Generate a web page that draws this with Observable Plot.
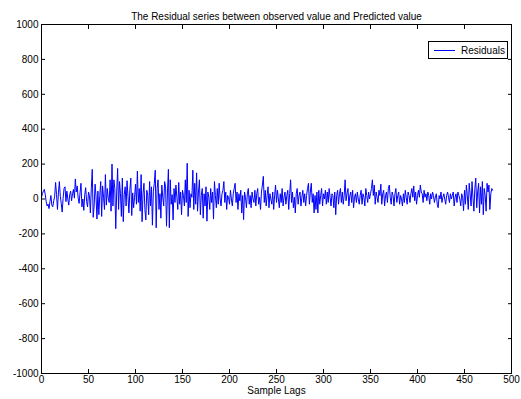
<!DOCTYPE html>
<html>
<head>
<meta charset="utf-8">
<script src="https://cdn.jsdelivr.net/npm/d3@7"></script>
<script src="https://cdn.jsdelivr.net/npm/@observablehq/plot@0.6"></script>
<style>
  html, body { margin: 0; padding: 0; background: #fff; }
  #chart { width: 521px; height: 399px; }
</style>
</head>
<body>
<div id="chart"></div>
<script>
const titleText = "The Residual series between observed value and Predicted value";
const xLabel = "Sample Lags";
const seriesName = "Residuals";
const xTicks = [0, 50, 100, 150, 200, 250, 300, 350, 400, 450, 500];
const yTicks = [-1000, -800, -600, -400, -200, 0, 200, 400, 600, 800, 1000];
const residuals = [
  10, 30, 45, 55, 25, -15, -40, -30, -55, -15, 20, -35, -45, -10, 15, 95, 25, -60, 35, 100,
  15, -25, -75, 5, 60, 70, -15, 45, 0, -35, 25, 45, -10, 30, 55, 5, 115, 40, 75, 5,
  -25, 35, 90, -45, 0, -65, 25, 65, -15, -45, 40, 20, -80, 60, 170, -105, -40, 85, 15, -115,
  45, -90, 20, 100, -100, 75, 10, -60, 140, -35, 60, 5, -20, 110, -70, 200, -40, 110, 60, -170,
  40, 175, -60, 100, 30, -100, 120, -130, 25, 70, -40, 105, 15, -80, 55, 120, -95, 35, -50, 10,
  85, -30, 160, -20, 60, -70, 140, -130, 30, 90, -60, -120, 50, 20, -90, 100, -40, 70, -150, 45,
  90, 165, -165, 60, 110, -60, 30, -110, 80, 10, -40, 100, 70, -156, 40, 170, -165, 110, -30, 25,
  -120, 60, -20, 80, 10, -60, 95, -30, 40, -90, 50, 20, -40, 110, -20, 205, -100, 50, -50, 30,
  10, 165, -60, 90, -30, 150, -70, 40, 110, -90, 20, 60, -110, 30, -40, 70, -127, 40, 10, -60,
  60, -20, 40, -115, 100, 20, -50, 60, -30, 90, 0, -40, 30, 50, 100, -20, 40, -60, 20, 10,
  -30, 50, 0, -40, 30, 60, 90, -20, 40, -60, 30, -10, 50, -80, 20, -118, 40, 10, -50, 30,
  60, -30, 20, -50, 40, 0, -20, 50, -40, 30, 60, -30, 10, -60, 40, 80, 130, -20, 50, -40,
  20, 70, -50, 30, 0, -30, 40, -60, 20, 80, -20, 50, 0, -50, 30, -20, 60, -40, 10, 40,
  -30, 20, 50, -60, 30, 110, -20, 40, -50, 10, -80, 30, 60, -30, 20, 40, -40, 10, 50, -20,
  30, -40, 20, 60, 90, -30, 40, 90, -20, 30, -80, 20, -60, 40, -80, 50, -30, 20, 60, -40,
  30, 0, 50, -30, 40, -20, 60, 10, -40, 30, 20, -50, 40, -90, 20, 50, -30, 30, 60, -20,
  40, -30, 20, 110, -10, 30, 60, -40, 20, 40, -20, 50, -50, 10, 30, -20, 40, 0, -30, 20,
  50, -30, 30, 10, -40, 60, 20, -20, 40, 0, 30, 60, 110, 20, 80, -30, 40, 10, -20, 50,
  20, 85, -30, 30, 50, -40, 20, 40, -20, 60, 80, 10, -30, 40, 20, -40, 30, 60, -20, 20,
  40, -30, 20, 0, -40, 30, -20, 50, 10, -30, 40, 20, -20, 30, 60, 10, 75, -10, 40, -30,
  20, 50, 10, 80, 40, 30, -20, 50, 10, 30, -10, 40, 20, -30, 30, 0, 40, 20, -20, 10,
  30, -30, -50, 20, 0, 40, -20, 10, 30, 0, -30, 20, 40, 10, -20, 30, 0, 20, 40, -40,
  10, 30, -20, 40, 20, 0, -40, 30, 10, -67, 50, -30, 80, 20, -60, 90, 30, -40, 100, 10,
  -70, 60, 120, -50, 40, 90, -80, 70, -30, 100, -90, 60, 20, -70, 90, 40, 80, -60, 30, 60,
  50
];

const data = residuals.map((v, i) => ({lag: i, value: v}));
const font = "'Liberation Sans', Arial, Helvetica, sans-serif";

const chart = Plot.plot({
  width: 521,
  height: 399,
  marginLeft: 41,
  marginRight: 10,
  marginTop: 24,
  marginBottom: 26,
  style: {fontFamily: font, fontSize: "10px", color: "#000", background: "#fff", overflow: "visible"},
  x: {domain: [0, 500], label: null},
  y: {domain: [-1000, 1000], label: null},
  marks: [
    Plot.line(data, {x: "lag", y: "value", stroke: "#0000ff", strokeWidth: 1}),
    Plot.frame({stroke: "#000", strokeWidth: 1}),
    Plot.axisX({anchor: "bottom", ticks: xTicks, tickSize: 0, tickPadding: 2, tickFormat: d => String(d)}),
    Plot.axisX({anchor: "bottom", ticks: xTicks, tickSize: -4, text: null}),
    Plot.axisX({anchor: "top", ticks: xTicks, tickSize: -4, text: null}),
    Plot.axisY({anchor: "left", ticks: yTicks, tickSize: 0, tickPadding: 3, tickFormat: d => String(d)}),
    Plot.axisY({anchor: "left", ticks: yTicks, tickSize: -4, text: null}),
    Plot.axisY({anchor: "right", ticks: yTicks, tickSize: -4, text: null}),
    Plot.text([titleText], {text: d => d, frameAnchor: "top", dy: -12, fontSize: 10}),
    Plot.text([xLabel], {text: d => d, frameAnchor: "bottom", dy: 20, fontSize: 10})
  ]
});

document.getElementById("chart").appendChild(chart);

// Legend box (drawn in the upper right of the plot area)
const svg = d3.select(chart);
const lg = svg.append("g").attr("transform", "translate(428,41)").attr("text-anchor", "start");
lg.append("rect").attr("x", 0.5).attr("y", 0.5).attr("width", 79).attr("height", 17)
  .attr("fill", "#fff").attr("stroke", "#000").attr("stroke-width", 1);
lg.append("line").attr("x1", 6).attr("x2", 27).attr("y1", 9.5).attr("y2", 9.5)
  .attr("stroke", "#0000ff").attr("stroke-width", 1);
lg.append("text").attr("x", 33).attr("y", 9).attr("dy", "0.35em").attr("text-anchor", "start")
  .attr("font-family", font).attr("font-size", 10).attr("fill", "#000").text(seriesName);
</script>
</body>
</html>
